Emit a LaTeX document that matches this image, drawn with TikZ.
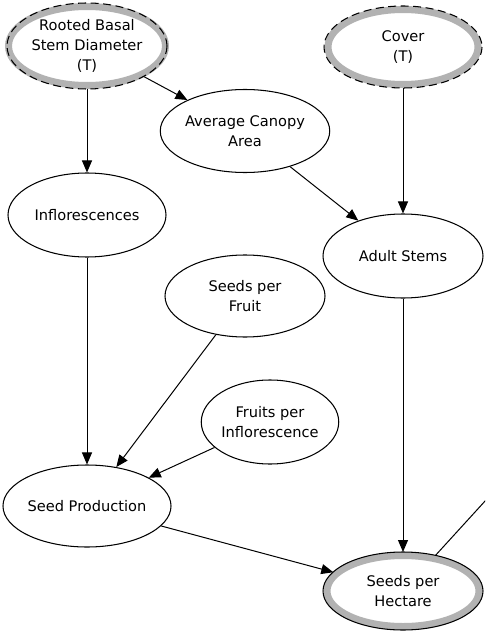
\documentclass[tikz,border=0pt]{standalone}
\usepackage{fontspec}
\setmainfont{DejaVu Sans}
\usetikzlibrary{shapes.geometric,arrows.meta}

\begin{document}
\begin{tikzpicture}[x=1pt,y=-1pt,
  var/.style={ellipse, draw=black, line width=1.05pt, fill=white, inner sep=0pt,
    align=center, font=\fontsize{14.6}{20}\selectfont,
    minimum width=160pt, minimum height=83pt},
  banded/.style={var, draw=black!30, line width=7pt},
  ring/.style={draw=black, line width=1.05pt},
  dashring/.style={ring, dash pattern=on 8pt off 4.5pt},
  link/.style={draw=black, line width=1pt, -{Triangle[length=12pt,width=10pt]}},
  plain/.style={draw=black, line width=1pt}
]
\useasboundingbox (0,0) rectangle (485,631);
\clip (0,0) rectangle (485,631);

% observed variables
\node[var] (canopy) at (245,131) {Average Canopy\\Area};
\node[var, minimum width=158pt, minimum height=84pt] (infl) at (87,215) {Inflorescences};
\node[var, minimum height=84pt] (adult) at (403,256) {Adult Stems};
\node[var, minimum height=82pt] (spf) at (245,296) {Seeds per\\Fruit};
\node[var, minimum width=132pt, minimum height=84pt] (fpi) at (270,422) {Fruits per\\Inflorescence};
\node[var, minimum height=82pt] (seedprod) at (87,506) {Seed Production};

% treatment variables: grey band with dashed outer ring
\node[banded, minimum width=152pt, minimum height=79pt] (rbsd) at (87,46) {Rooted Basal\\Stem Diameter\\(T)};
\draw[dashring] (rbsd.center) ellipse [x radius=80, y radius=43];
\node[banded, minimum width=150pt, minimum height=75pt] (cover) at (403,47) {Cover\\(T)};
\draw[dashring] (cover.center) ellipse [x radius=79, y radius=41];

% response variable: grey band with solid outer ring
\node[banded, minimum width=152pt, minimum height=71pt] (sph) at (403,591) {Seeds per\\Hectare};
\draw[ring] (sph.center) ellipse [x radius=80, y radius=39];

\coordinate (offright) at (486,500);

% causal links
\draw[link] (rbsd) -- (canopy);
\draw[link] (rbsd) -- (infl);
\draw[link] (canopy) -- (adult);
\draw[link] (cover) -- (adult);
\draw[link] (infl) -- (seedprod);
\draw[link] (spf) -- (seedprod);
\draw[link] (fpi) -- (seedprod);
\draw[link] (seedprod) -- (sph);
\draw[link] (adult) -- (sph);
\draw[plain] (sph) -- (offright);
\end{tikzpicture}
\end{document}
